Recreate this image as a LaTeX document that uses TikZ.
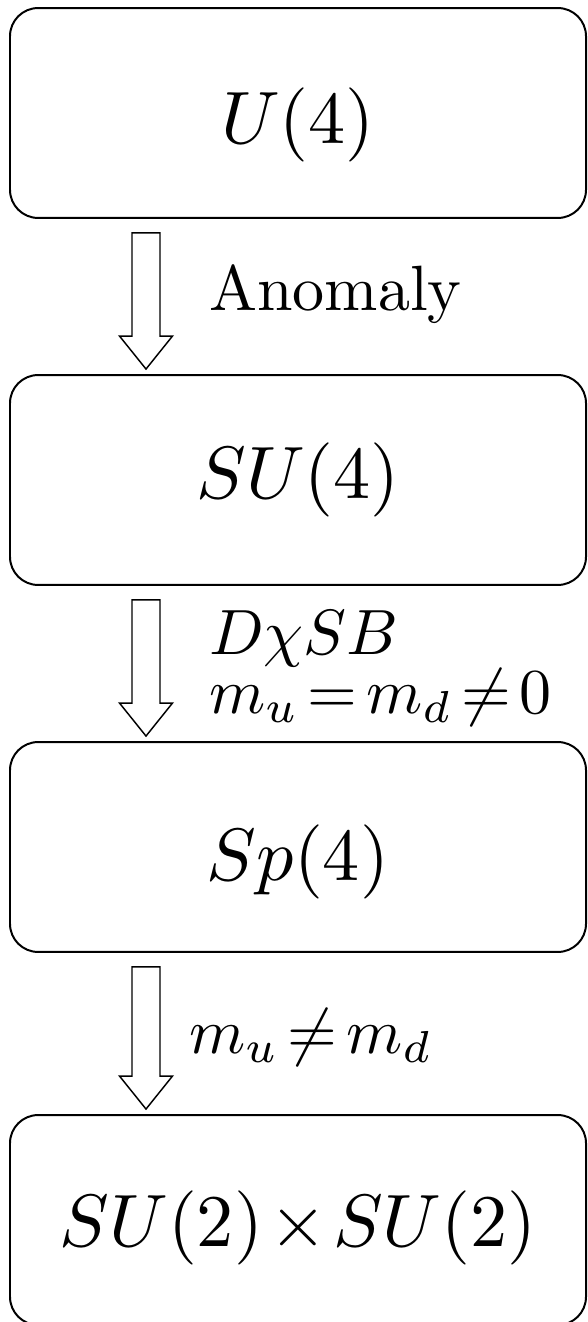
\documentclass[tikz,border=0pt]{standalone}
\usepackage{fix-cm}
\usepackage{amsmath}
\usepackage{tikz}
\usetikzlibrary{positioning,calc}

\begin{document}
\thickmuskip=2.5mu
\medmuskip=1.5mu
\begin{tikzpicture}[
    x=0.15625pt, y=-0.15625pt,
    grp/.style={draw, line width=0.31pt, rounded corners=4.4pt, minimum width=90pt, minimum height=32.8pt, inner sep=0pt,
        text height=8.7pt, text depth=2.9pt, font=\fontsize{11.6}{14}\selectfont},
    lbl/.style={anchor=west, inner sep=0pt, font=\fontsize{10}{12}\selectfont},
    blockarrow/.style={draw, line width=0.23pt, line join=miter, fill=white}
]
    \useasboundingbox (0,0) rectangle (587,1322);

    % Symmetry groups
    \node[grp, text height=12.45pt] (u4)  at (298,113)  {$U(4)$};
    \node[grp]                      (su4) at (298,480)  {$SU(4)$};
    \node[grp, text height=13.4pt]  (sp4) at (298,847)  {$Sp(4)$};
    \node[grp, text height=11.2pt]  (su2) at (298,1220) {$SU(2)\times SU(2)$};

    % Breaking arrows
    \coordinate (stem) at (146,0);
    \foreach \a/\b in {u4/su4, su4/sp4, sp4/su2}
        \draw[blockarrow] ($(\a.south -| stem)+(-14,14)$) -- ++(28,0) -- ($(\b.north -| stem)+(14,-38)$) -- ++(12.5,0)
            -- ($(\b.north -| stem)+(0,-5)$) -- ++(-26.5,-33) -- ++(12.5,0) -- cycle;

    % Labels
    \node[lbl] (anom) at (208,294)  {Anomaly};
    \node[lbl] (dxsb) at (208,639)  {$D\chi SB$};
    \node[lbl] (meq)  at (208,697)  {$m_u = m_d \neq 0$};
    \node[lbl] (mneq) at (188,1037) {$m_u \neq m_d$};
\end{tikzpicture}
\end{document}
